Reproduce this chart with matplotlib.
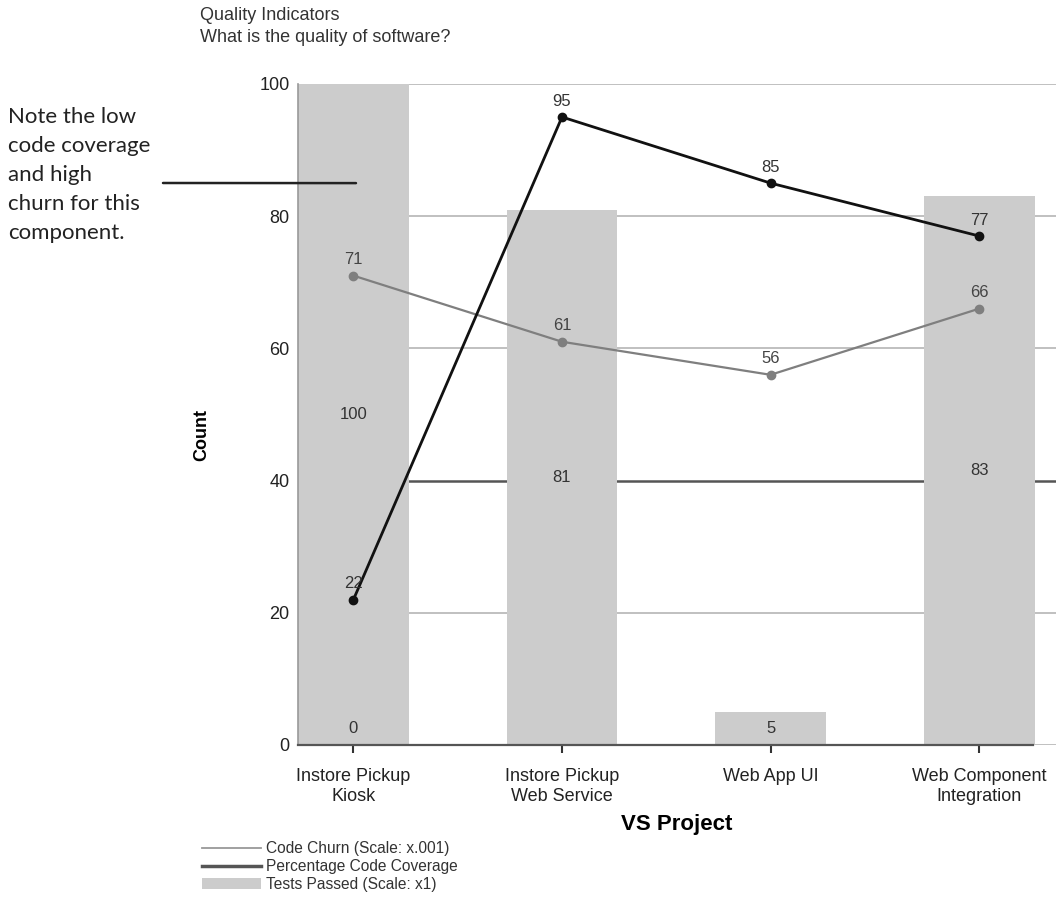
import numpy as np
import matplotlib
matplotlib.use('Agg')
import matplotlib.pyplot as plt
from matplotlib.lines import Line2D
from matplotlib.patches import Patch

plt.rcParams['font.family'] = ['Liberation Sans', 'DejaVu Sans']

projects = ['Instore Pickup\nKiosk', 'Instore Pickup\nWeb Service', 'Web App UI',
            'Web Component\nIntegration']
tests_passed = [100, 81, 5, 83]
tests_failed = [0, None, None, None]
code_churn = [71, 61, 56, 66]
code_coverage = [22, 95, 85, 77]
y_ticks = [0, 20, 40, 60, 80, 100]

note = 'Note the low\ncode coverage\nand high\nchurn for this\ncomponent.'

fig = plt.figure(figsize=(10.56, 8.97), dpi=100)
ax = fig.add_axes([0.2822, 0.1695, 0.7178, 0.7369])

x = np.arange(len(projects))
bar_w = 0.532

ax.bar(x, tests_passed, width=bar_w, color='#cccccc', zorder=2)
for xi, h in zip(x, tests_passed):
    ax.text(xi, max(h / 2, 2.5), str(h), ha='center', va='center',
            fontsize=12, color='#333333', zorder=5)
for xi, h in zip(x, tests_failed):
    if h is not None:
        ax.text(xi, 2.5, str(h), ha='center', va='center',
                fontsize=12, color='#333333', zorder=5)

# churn (gray) and coverage (black) lines on top of the bars
ax.plot(x, code_churn, color='#7f7f7f', lw=1.6, marker='o', ms=6, zorder=3)
ax.plot(x, code_coverage, color='#111111', lw=2.0, marker='o', ms=6, zorder=4)
for xi, v in zip(x, code_churn):
    ax.annotate(str(v), (xi, v), xytext=(0, 6), textcoords='offset points',
                ha='center', va='bottom', fontsize=12, color='#444444', zorder=6)
for xi, v in zip(x, code_coverage):
    ax.annotate(str(v), (xi, v), xytext=(0, 6), textcoords='offset points',
                ha='center', va='bottom', fontsize=12, color='#333333', zorder=6)

ax.set_xlim(-0.266, 3.369)
ax.set_ylim(0, 100)
ax.set_yticks(y_ticks)
ax.set_xticks(x)
ax.set_xticklabels(projects, fontsize=13, color='#222222', linespacing=1.25)
ax.tick_params(axis='y', length=0, pad=6, labelsize=13, labelcolor='#222222')
ax.tick_params(axis='x', length=6, width=1.5, color='#333333', pad=10.5)

ax.set_axisbelow(True)
ax.yaxis.grid(True, color='#bbbbbb', lw=1.3)
for val, gl in zip(y_ticks, ax.get_ygridlines()):
    if val == 40:
        gl.set_color('#555555')
        gl.set_linewidth(1.8)

for side in ['top', 'right']:
    ax.spines[side].set_visible(False)
ax.spines['left'].set_color('#999999')
ax.spines['left'].set_linewidth(1.2)
ax.spines['bottom'].set_color('#555555')
ax.spines['bottom'].set_linewidth(1.6)
ax.spines['bottom'].set_bounds(-0.266, 3.26)

ax.set_ylabel('Count', fontsize=13, fontweight='bold')
ax.yaxis.set_label_coords(-0.116, 0.469)
ax.set_xlabel('VS Project', fontsize=16, fontweight='bold')
ax.xaxis.set_label_coords(0.5, -0.104)

fig.text(200 / 1056, 1 - 15 / 897, 'Quality Indicators',
         ha='left', va='center', fontsize=13, color='#333333')
fig.text(200 / 1056, 1 - 38 / 897, 'What is the quality of software?',
         ha='left', va='center', fontsize=13, color='#333333')

fig.text(8 / 1056, 1 - 175 / 897, note, ha='left', va='center',
         fontsize=16, family=['Lato', 'DejaVu Sans'], color='#222222',
         linespacing=1.55)
ax.annotate('', xy=(0.012, 85), xycoords='data',
            xytext=(163, 897 - 183), textcoords='figure pixels',
            arrowprops=dict(arrowstyle='-', lw=1.8, color='#222222',
                            shrinkA=0, shrinkB=0), zorder=7)

handles = [Line2D([], [], color='#999999', lw=1.3),
           Line2D([], [], color='#555555', lw=2.5),
           Patch(facecolor='#cccccc', edgecolor='none')]
labels = ['Code Churn (Scale: x.001)', 'Percentage Code Coverage',
          'Tests Passed (Scale: x1)']
fig.legend(handles, labels, loc='upper left', bbox_to_anchor=(202 / 1056, 1 - 841 / 897),
           frameon=False, fontsize=11.2, handlelength=3.8, handletextpad=0.3,
           labelspacing=0.2, borderpad=0, borderaxespad=0, labelcolor='#333333')

fig.savefig('out.png', dpi=100)
plt.close(fig)
